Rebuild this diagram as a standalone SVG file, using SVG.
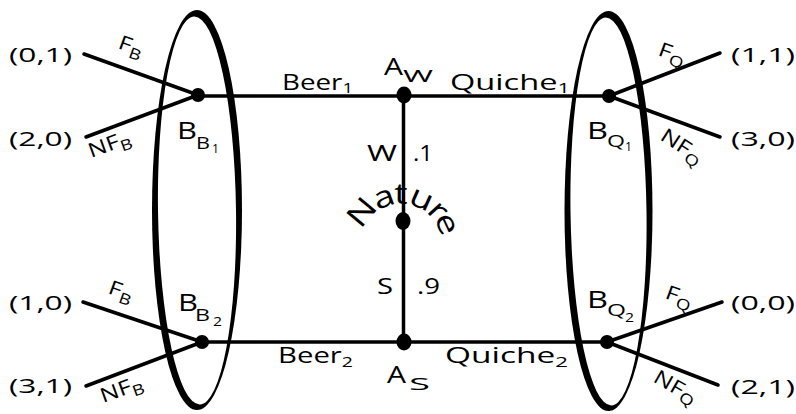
<svg xmlns="http://www.w3.org/2000/svg" width="796" height="414" viewBox="0 0 796 414">
<style>
text{font-family:"Open Sans","Liberation Sans",sans-serif;fill:#000;font-weight:500}
.edge{stroke:#000;stroke-width:3.5;stroke-linecap:round;fill:none}
.dot{fill:#000}
.pay{font-size:20px}
.lbl{font-size:21px}
.big{font-size:24px}
.sub{font-size:17px}
.ss{font-size:12px}
.rot{font-size:20px}
.nat{font-size:30px}
</style>
<g id="infoset-left">
  <ellipse cx="197" cy="210" rx="45" ry="200" fill="#000"/>
  <ellipse cx="197" cy="210.5" rx="39" ry="194" fill="#fff" transform="rotate(-0.8 197 210)"/>
</g>
<g id="infoset-right">
  <ellipse cx="608.5" cy="211" rx="44" ry="200" fill="#000"/>
  <ellipse cx="608.5" cy="211.5" rx="38" ry="194" fill="#fff" transform="rotate(-0.8 608.5 211)"/>
</g>
<g id="connectors">
  <line class="edge" x1="198" y1="96" x2="609" y2="96"/>
  <line class="edge" x1="202" y1="342" x2="607" y2="342"/>
  <line class="edge" x1="403.5" y1="96" x2="403.5" y2="342"/>
  <line class="edge" x1="84" y1="54" x2="198" y2="95"/>
  <line class="edge" x1="86" y1="137" x2="198" y2="95"/>
  <line class="edge" x1="83" y1="302" x2="202" y2="342"/>
  <line class="edge" x1="86" y1="386" x2="202" y2="342"/>
  <line class="edge" x1="609" y1="96" x2="720" y2="53"/>
  <line class="edge" x1="609" y1="96" x2="720" y2="137"/>
  <line class="edge" x1="607" y1="342" x2="722" y2="302"/>
  <line class="edge" x1="607" y1="342" x2="718" y2="385"/>
</g>
<g id="edge-labels">
  <text class="lbl" x="282" y="90" textLength="71" lengthAdjust="spacingAndGlyphs">Beer<tspan font-size="14" dy="3">1</tspan></text>
  <text class="lbl" x="450" y="90" textLength="120" lengthAdjust="spacingAndGlyphs">Quiche<tspan font-size="14" dy="3">1</tspan></text>
  <text class="lbl" x="278" y="363" textLength="75" lengthAdjust="spacingAndGlyphs">Beer<tspan font-size="14" dy="4">2</tspan></text>
  <text class="lbl" x="445" y="363" textLength="123" lengthAdjust="spacingAndGlyphs">Quiche<tspan font-size="14" dy="4">2</tspan></text>
  <text class="lbl" x="367" y="161" font-size="22" textLength="30" lengthAdjust="spacingAndGlyphs">W</text>
  <text class="lbl" x="413" y="161" textLength="20" lengthAdjust="spacingAndGlyphs">.1</text>
  <text class="lbl" x="377" y="294" font-size="22" textLength="16" lengthAdjust="spacingAndGlyphs">S</text>
  <text class="lbl" x="417" y="294" textLength="23" lengthAdjust="spacingAndGlyphs">.9</text>
  <text class="rot" transform="translate(117,48) rotate(20) scale(1.25,1)">F<tspan font-size="15" dy="5">B</tspan></text>
  <text class="rot" transform="translate(91,158) rotate(-20) scale(1.25,1)">NF<tspan font-size="15" dy="5">B</tspan></text>
  <text class="rot" transform="translate(107,293) rotate(20) scale(1.25,1)">F<tspan font-size="15" dy="5">B</tspan></text>
  <text class="rot" transform="translate(103,403) rotate(-20) scale(1.25,1)">NF<tspan font-size="15" dy="5">B</tspan></text>
  <text class="rot" transform="translate(657,55) rotate(20) scale(1.25,1)">F<tspan font-size="15" dy="5">Q</tspan></text>
  <text class="rot" transform="translate(659,139) rotate(33) scale(1.25,1)">NF<tspan font-size="15" dy="5">Q</tspan></text>
  <text class="rot" transform="translate(664,298) rotate(20) scale(1.25,1)">F<tspan font-size="15" dy="5">Q</tspan></text>
  <text class="rot" transform="translate(652,381) rotate(30) scale(1.25,1)">NF<tspan font-size="15" dy="4">Q</tspan></text>
</g>
<g id="payoffs">
  <text class="pay" x="9" y="62" textLength="63" lengthAdjust="spacingAndGlyphs">(0,1)</text>
  <text class="pay" x="9" y="146" textLength="63" lengthAdjust="spacingAndGlyphs">(2,0)</text>
  <text class="pay" x="9" y="310" textLength="63" lengthAdjust="spacingAndGlyphs">(1,0)</text>
  <text class="pay" x="9" y="393" textLength="63" lengthAdjust="spacingAndGlyphs">(3,1)</text>
  <text class="pay" x="731" y="62" textLength="64" lengthAdjust="spacingAndGlyphs">(1,1)</text>
  <text class="pay" x="731" y="146" textLength="64" lengthAdjust="spacingAndGlyphs">(3,0)</text>
  <text class="pay" x="731" y="310" textLength="64" lengthAdjust="spacingAndGlyphs">(0,0)</text>
  <text class="pay" x="731" y="394" textLength="64" lengthAdjust="spacingAndGlyphs">(2,1)</text>
</g>
<g id="node-BB1">
  <circle class="dot" cx="198" cy="95" r="7"/>
  <text class="big" x="177" y="139" textLength="20" lengthAdjust="spacingAndGlyphs">B</text>
  <text class="sub" x="196" y="149" textLength="14" lengthAdjust="spacingAndGlyphs">B</text>
  <text class="ss" x="212" y="153" textLength="7" lengthAdjust="spacingAndGlyphs">1</text>
</g>
<g id="node-BB2">
  <circle class="dot" cx="202" cy="342" r="7"/>
  <text class="big" x="178" y="311" textLength="20" lengthAdjust="spacingAndGlyphs">B</text>
  <text class="sub" x="195" y="321" textLength="15" lengthAdjust="spacingAndGlyphs">B</text>
  <text class="ss" x="213" y="326" textLength="9" lengthAdjust="spacingAndGlyphs">2</text>
</g>
<g id="node-BQ1">
  <circle class="dot" cx="609" cy="96" r="7"/>
  <text class="big" x="587" y="139" textLength="21" lengthAdjust="spacingAndGlyphs">B</text>
  <text class="sub" x="607" y="147" textLength="18" lengthAdjust="spacingAndGlyphs">Q</text>
  <text class="ss" x="625" y="151" textLength="7" lengthAdjust="spacingAndGlyphs">1</text>
</g>
<g id="node-BQ2">
  <circle class="dot" cx="607" cy="342" r="7"/>
  <text class="big" x="587" y="308" textLength="21" lengthAdjust="spacingAndGlyphs">B</text>
  <text class="sub" x="607" y="316" textLength="19" lengthAdjust="spacingAndGlyphs">Q</text>
  <text class="ss" x="625" y="322" textLength="9" lengthAdjust="spacingAndGlyphs">2</text>
</g>
<g id="node-AW">
  <ellipse class="dot" cx="404" cy="95" rx="7.5" ry="8.5"/>
  <text class="big" x="384" y="75" textLength="19" lengthAdjust="spacingAndGlyphs">A</text>
  <text class="sub" x="403" y="82" textLength="30" lengthAdjust="spacingAndGlyphs">W</text>
</g>
<g id="node-AS">
  <ellipse class="dot" cx="404" cy="342" rx="7.5" ry="8.5"/>
  <text class="big" x="387" y="383" textLength="19" lengthAdjust="spacingAndGlyphs">A</text>
  <text class="sub" x="409" y="390" textLength="21" lengthAdjust="spacingAndGlyphs">S</text>
</g>
<g id="node-Nature">
  <ellipse class="dot" cx="403" cy="221" rx="7.5" ry="9"/>
  <text class="nat" text-anchor="middle" transform="rotate(-50 401 245) translate(401,204) scale(1.25,1)">N</text>
  <text class="nat" text-anchor="middle" transform="rotate(-20 401 245) translate(401,204) scale(1.25,1)">a</text>
  <text class="nat" text-anchor="middle" transform="rotate(0 401 245) translate(401,204) scale(1.25,1)">t</text>
  <text class="nat" text-anchor="middle" transform="rotate(24 401 245) translate(401,204) scale(1.25,1)">u</text>
  <text class="nat" text-anchor="middle" transform="rotate(47 401 245) translate(401,204) scale(1.25,1)">r</text>
  <text class="nat" text-anchor="middle" transform="rotate(65 401 245) translate(401,204) scale(1.25,1)">e</text>
</g>
</svg>
